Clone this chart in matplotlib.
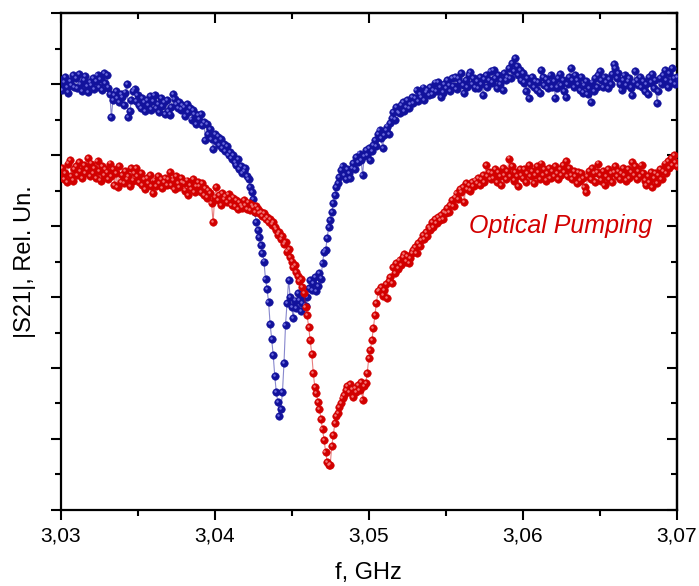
import numpy as np
import matplotlib
matplotlib.use("Agg")
import matplotlib.pyplot as plt
from matplotlib.ticker import MultipleLocator, FuncFormatter, NullFormatter
from matplotlib.transforms import ScaledTranslation

# ---------------- data ----------------
f_start = 3.030
f_step = 0.0001
n_points = 401
freq = f_start + f_step * np.arange(n_points)

blue = [
    6.05, 5.92, 6.02, 6.10, 5.95, 5.88, 6.04, 5.98, 6.12, 5.96,
    6.08, 5.94, 6.14, 6.00, 5.90, 6.06, 6.11, 5.97, 5.89, 6.03,
    5.99, 6.09, 5.93, 6.04, 6.13, 5.96, 6.07, 5.91, 6.15, 6.01,
    6.12, 5.95, 5.86, 5.53, 5.78, 5.84, 5.90, 5.80, 5.74, 5.86,
    5.82, 5.70, 5.88, 6.00, 5.53, 5.62, 5.78, 5.90, 5.93, 5.76,
    5.85, 5.70, 5.66, 5.80, 5.74, 5.62, 5.78, 5.70, 5.83, 5.64,
    5.76, 5.85, 5.66, 5.72, 5.60, 5.80, 5.69, 5.74, 5.58, 5.77,
    5.62, 5.57, 5.68, 5.86, 5.79, 5.71, 5.66, 5.75, 5.64, 5.70,
    5.68, 5.55, 5.72, 5.60, 5.66, 5.50, 5.63, 5.58, 5.44, 5.56,
    5.50, 5.58, 5.42, 5.46, 5.21, 5.44, 5.30, 5.36, 5.22, 5.08,
    5.30, 5.20, 5.26, 5.14, 5.22, 5.10, 5.16, 5.05, 5.12, 5.00,
    5.04, 4.95, 5.00, 4.90, 4.86, 4.94, 4.80, 4.84, 4.74, 4.78,
    4.82, 4.70, 4.66, 4.55, 4.48, 4.38, 4.20, 4.05, 3.94, 3.85,
    3.73, 3.62, 3.50, 3.25, 3.11, 2.93, 2.62, 2.41, 2.18, 1.89,
    1.66, 1.52, 1.32, 1.42, 1.66, 2.07, 2.61, 2.92, 3.24, 3.00,
    2.86, 2.70, 2.95, 2.85, 3.05, 2.96, 2.80, 2.92, 3.02, 2.88,
    3.00, 3.12, 3.24, 3.10, 3.20, 3.28, 3.08, 3.15, 3.34, 3.26,
    3.48, 3.63, 3.66, 3.83, 3.99, 4.08, 4.20, 4.32, 4.44, 4.55,
    4.61, 4.69, 4.79, 4.85, 4.72, 4.66, 4.80, 4.75, 4.68, 4.82,
    4.89, 4.80, 4.97, 4.90, 5.02, 4.93, 4.72, 4.98, 5.07, 5.00,
    5.10, 4.93, 5.05, 5.14, 5.21, 5.12, 5.30, 5.35, 5.24, 5.10,
    5.28, 5.35, 5.40, 5.30, 5.45, 5.52, 5.61, 5.50, 5.68, 5.60,
    5.59, 5.70, 5.75, 5.62, 5.68, 5.78, 5.66, 5.72, 5.82, 5.73,
    5.80, 5.92, 5.76, 5.86, 5.82, 5.95, 5.78, 5.88, 5.92, 5.84,
    5.96, 5.86, 5.92, 6.02, 5.90, 6.03, 5.95, 5.82, 5.88, 6.00,
    5.94, 6.05, 5.99, 5.90, 6.08, 5.97, 6.10, 5.93, 6.08, 6.02,
    6.15, 5.98, 5.87, 6.06, 5.96, 6.12, 6.17, 6.00, 6.08, 5.95,
    6.04, 5.94, 6.10, 6.00, 5.85, 6.07, 6.13, 5.96, 6.05, 6.18,
    6.02, 6.20, 6.08, 5.94, 6.12, 6.00, 6.06, 5.92, 6.15, 6.05,
    6.10, 6.22, 6.08, 6.30, 6.18, 6.37, 6.25, 6.12, 6.20, 6.05,
    6.15, 6.02, 5.90, 6.08, 5.80, 6.00, 6.10, 5.96, 6.04, 5.92,
    6.03, 5.88, 6.20, 6.10, 5.98, 6.07, 5.94, 6.02, 6.12, 5.96,
    6.04, 5.80, 5.95, 6.08, 6.14, 5.98, 6.05, 5.90, 5.82, 6.00,
    6.10, 6.22, 6.05, 5.96, 6.12, 6.06, 6.00, 5.92, 6.10, 5.88,
    5.98, 6.04, 5.86, 5.94, 5.75, 6.02, 5.90, 6.08, 5.96, 6.12,
    6.18, 6.05, 5.96, 6.10, 6.02, 5.94, 6.07, 6.00, 6.14, 6.28,
    6.22, 6.08, 6.15, 6.00, 5.92, 6.05, 6.12, 5.98, 6.04, 6.08,
    5.95, 5.84, 6.02, 6.18, 6.06, 5.98, 6.10, 5.96, 6.04, 5.90,
    6.00, 5.86, 6.10, 6.02, 6.14, 5.94, 6.06, 5.73, 5.90, 6.08,
    6.00, 6.12, 6.20, 6.05, 5.96, 6.15, 6.02, 6.22, 6.08, 6.00,
    6.10,
]

red = [
    4.70, 4.82, 4.66, 4.74, 4.62, 4.88, 4.93, 4.70, 4.64, 4.80,
    4.84, 4.72, 4.90, 4.78, 4.68, 4.86, 4.75, 4.80, 4.96, 4.70,
    4.88, 4.74, 4.82, 4.68, 4.92, 4.78, 4.64, 4.85, 4.72, 4.80,
    4.76, 4.66, 4.88, 4.70, 4.80, 4.58, 4.74, 4.55, 4.84, 4.62,
    4.72, 4.60, 4.78, 4.66, 4.70, 4.56, 4.82, 4.64, 4.74, 4.82,
    4.70, 4.62, 4.74, 4.58, 4.66, 4.52, 4.68, 4.60, 4.72, 4.56,
    4.46, 4.64, 4.56, 4.70, 4.60, 4.66, 4.54, 4.62, 4.68, 4.58,
    4.66, 4.76, 4.58, 4.64, 4.52, 4.70, 4.60, 4.55, 4.68, 4.62,
    4.60, 4.50, 4.64, 4.44, 4.58, 4.52, 4.66, 4.48, 4.56, 4.62,
    4.56, 4.48, 4.60, 4.44, 4.54, 4.40, 4.50, 4.46, 4.32, 4.05,
    4.40, 4.55, 4.36, 4.44, 4.30, 4.46, 4.38, 4.42, 4.34, 4.45,
    4.38, 4.30, 4.40, 4.28, 4.36, 4.24, 4.34, 4.30, 4.26, 4.36,
    4.30, 4.24, 4.33, 4.22, 4.30, 4.26, 4.20, 4.28, 4.24, 4.18,
    4.20, 4.14, 4.18, 4.10, 4.12, 4.06, 4.10, 4.02, 4.05, 3.98,
    3.95, 3.88, 3.92, 3.82, 3.86, 3.74, 3.78, 3.64, 3.68, 3.56,
    3.50, 3.42, 3.45, 3.35, 3.30, 3.22, 3.25, 3.14, 3.05, 2.86,
    2.74, 2.58, 2.39, 2.20, 1.93, 1.73, 1.65, 1.52, 1.42, 1.28,
    1.14, 0.99, 0.82, 0.68, 0.63, 0.64, 0.90, 1.06, 1.22, 1.32,
    1.37, 1.45, 1.50, 1.58, 1.62, 1.69, 1.74, 1.66, 1.78, 1.70,
    1.59, 1.72, 1.66, 1.76, 1.69, 1.80, 1.55, 1.74, 1.79, 1.93,
    2.14, 2.25, 2.39, 2.56, 2.75, 2.92, 3.08, 3.10, 3.14, 3.02,
    3.10, 3.18, 2.99, 3.22, 3.28, 3.20, 3.42, 3.34, 3.48, 3.40,
    3.52, 3.45, 3.56, 3.60, 3.50, 3.58, 3.48, 3.55, 3.62, 3.66,
    3.70, 3.62, 3.76, 3.72, 3.80, 3.87, 3.82, 3.92, 3.86, 3.99,
    3.95, 4.05, 3.98, 4.10, 4.04, 4.12, 4.08, 4.15, 4.10, 4.20,
    4.18, 4.25, 4.20, 4.30, 4.36, 4.28, 4.40, 4.46, 4.38, 4.52,
    4.48, 4.55, 4.34, 4.60, 4.52, 4.58, 4.50, 4.62, 4.56, 4.64,
    4.60, 4.68, 4.58, 4.66, 4.72, 4.62, 4.86, 4.70, 4.76, 4.66,
    4.74, 4.68, 4.80, 4.62, 4.76, 4.70, 4.58, 4.82, 4.72, 4.66,
    4.78, 4.95, 4.70, 4.84, 4.64, 4.76, 4.70, 4.56, 4.80, 4.72,
    4.68, 4.80, 4.62, 4.74, 4.86, 4.70, 4.78, 4.60, 4.72, 4.84,
    4.76, 4.66, 4.88, 4.72, 4.80, 4.64, 4.74, 4.82, 4.68, 4.78,
    4.70, 4.84, 4.74, 4.66, 4.80, 4.72, 4.86, 4.76, 4.92, 4.70,
    4.82, 4.72, 4.66, 4.78, 4.70, 4.60, 4.76, 4.64, 4.74, 4.68,
    4.55, 4.48, 4.70, 4.78, 4.66, 4.82, 4.74, 4.62, 4.76, 4.88,
    4.72, 4.64, 4.78, 4.58, 4.70, 4.80, 4.66, 4.74, 4.62, 4.76,
    4.84, 4.70, 4.78, 4.66, 4.74, 4.82, 4.72, 4.64, 4.80, 4.68,
    4.76, 4.90, 4.72, 4.84, 4.66, 4.78, 4.70, 4.86, 4.74, 4.64,
    4.58, 4.70, 4.62, 4.76, 4.55, 4.68, 4.74, 4.60, 4.72, 4.80,
    4.66, 4.78, 4.88, 4.74, 4.92, 4.82, 4.96, 4.86, 5.00, 4.90,
    4.84,
]

x_ticks = [3.03, 3.04, 3.05, 3.06, 3.07]
annotation = "Optical Pumping"
x_label = "f, GHz"
y_label = "|S21|, Rel. Un."

# ---------------- style ----------------
plt.rcParams['font.family'] = ['Liberation Sans', 'DejaVu Sans']

blue_c = '#12129c'
blue_hi = '#7878e6'
red_c = '#d20000'
red_hi = '#f78585'

fig = plt.figure(figsize=(6.99, 5.86), dpi=100)
ax = fig.add_axes([0.0866, 0.1297, 0.8819, 0.8481])

hl_shift = ScaledTranslation(-0.8 / 72, 0.8 / 72, fig.dpi_scale_trans)

for yvals, c, hi, z in [(blue, blue_c, blue_hi, 3), (red, red_c, red_hi, 5)]:
    ax.plot(freq, yvals, '-', color=c, lw=0.8, alpha=0.5, zorder=z)
    ax.plot(freq, yvals, 'o', ms=5.4, mfc=c, mec=c, mew=0.4, ls='none', zorder=z + 0.1)
    ax.plot(freq, yvals, 'o', ms=1.8, mfc=hi, mec='none', ls='none',
            alpha=0.9, zorder=z + 0.2, transform=ax.transData + hl_shift)

ax.set_xlim(3.03, 3.07)
ax.set_ylim(0, 7)

ax.xaxis.set_major_locator(MultipleLocator(0.01))
ax.xaxis.set_minor_locator(MultipleLocator(0.005))
ax.yaxis.set_major_locator(MultipleLocator(1))
ax.yaxis.set_minor_locator(MultipleLocator(0.5))
ax.set_xticks(x_ticks)
ax.xaxis.set_major_formatter(FuncFormatter(lambda v, p: f"{v:.2f}".replace('.', ',')))
ax.yaxis.set_major_formatter(NullFormatter())

for s in ax.spines.values():
    s.set_linewidth(1.6)

ax.tick_params(axis='both', which='major', direction='out', length=7, width=1.5,
               labelsize=15, pad=5)
ax.tick_params(axis='both', which='minor', direction='out', length=4, width=1.5)

top = ax.secondary_xaxis('top')
top.xaxis.set_major_locator(MultipleLocator(0.01))
top.xaxis.set_minor_locator(MultipleLocator(0.005))
top.tick_params(which='major', direction='in', length=7, width=1.5, labeltop=False)
top.tick_params(which='minor', direction='in', length=4, width=1.5)
top.spines['top'].set_linewidth(1.6)

right = ax.secondary_yaxis('right')
right.yaxis.set_major_locator(MultipleLocator(1))
right.yaxis.set_minor_locator(MultipleLocator(0.5))
right.tick_params(which='major', direction='in', length=7, width=1.5, labelright=False)
right.tick_params(which='minor', direction='in', length=4, width=1.5)
right.spines['right'].set_linewidth(1.6)

ax.set_xlabel(x_label, fontsize=17, labelpad=12)
ax.set_ylabel(y_label, fontsize=17, labelpad=6)

ax.text(3.0565, 4.0, annotation, color=red_c, fontsize=18, style='italic',
        ha='left', va='center', zorder=10)

fig.savefig('out.png', dpi=100)
